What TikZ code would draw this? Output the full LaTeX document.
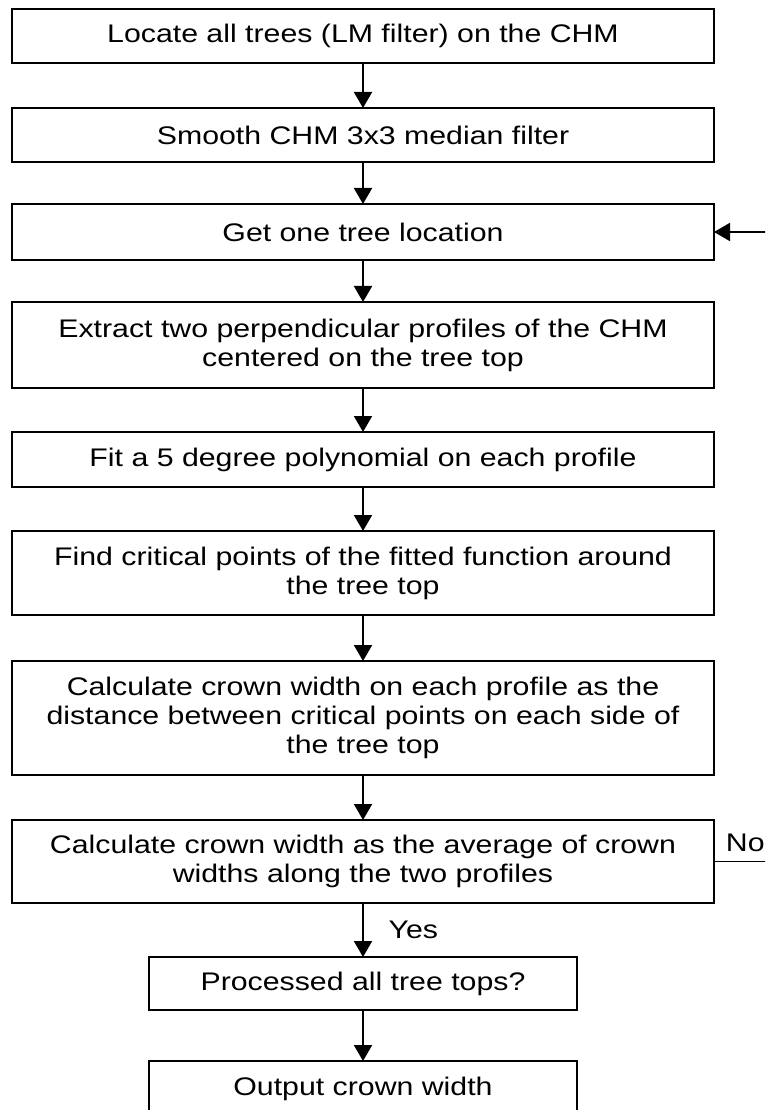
\documentclass[tikz,border=0pt]{standalone}
\usepackage{fontspec}
\setmainfont[FakeStretch=1.19]{Liberation Sans}
\usetikzlibrary{arrows.meta, positioning}

\begin{document}
\begin{tikzpicture}[node distance=1.1cm, line width=1.4pt, >={Triangle[width=0.45cm, length=0.4cm]},
  stepbox/.style={draw, outer sep=0pt, minimum width=17.55cm, minimum height=1.375cm, align=center, font=\fontsize{18.1}{20.6}\selectfont},
  lbl/.style={font=\fontsize{18.1}{20.6}\selectfont}]
\useasboundingbox (0,0) rectangle (19.125,-27.75);
\clip (0,0) rectangle (19.125,-27.75);

  \node (locate) [stepbox, minimum height=1.35cm] at (9.075,-0.9) {Locate all trees (LM filter) on the CHM};
  \node (smooth) [stepbox, minimum height=1.35cm, below=1.125cm of locate] {Smooth CHM 3x3 median filter};
  \node (get) [stepbox, minimum height=1.4cm, below=1.05cm of smooth] {Get one tree location};
  \node (extract) [stepbox, minimum height=2.15cm, below=1.05cm of get] {Extract two perpendicular profiles of the CHM\\centered on the tree top};
  \node (fit) [stepbox, below=of extract] {Fit a 5 degree polynomial on each profile};
  \node (find) [stepbox, minimum height=2.1cm, below=of fit] {Find critical points of the fitted function around\\the tree top};
  \node (width) [stepbox, minimum height=2.85cm, below=1.15cm of find] {Calculate crown width on each profile as the\\distance between critical points on each side of\\the tree top};
  \node (avg) [stepbox, minimum height=2.075cm, below=1.125cm of width] {Calculate crown width as the average of crown\\widths along the two profiles};
  \node (done) [stepbox, minimum width=10.7cm, minimum height=1.325cm, below=1.35cm of avg] {Processed all tree tops?};
  \node (output) [stepbox, minimum width=10.7cm, below=1.275cm of done] {Output crown width};

  \draw[->] (locate) -- (smooth);
  \draw[->] (smooth) -- (get);
  \draw[->] (get) -- (extract);
  \draw[->] (extract) -- (fit);
  \draw[->] (fit) -- (find);
  \draw[->] (find) -- (width);
  \draw[->] (width) -- (avg);
  \draw[->] (avg) -- node[lbl, right=0.5cm] {Yes} (done);
  \draw[->] (done) -- (output);
  % loop back for the next tree
  \draw[->] (avg.east) node[lbl, anchor=base west, inner sep=0, xshift=0.275cm, yshift=0.25cm] {No}
    -- ++(1.65,0) |- (get.east);
\end{tikzpicture}
\end{document}
